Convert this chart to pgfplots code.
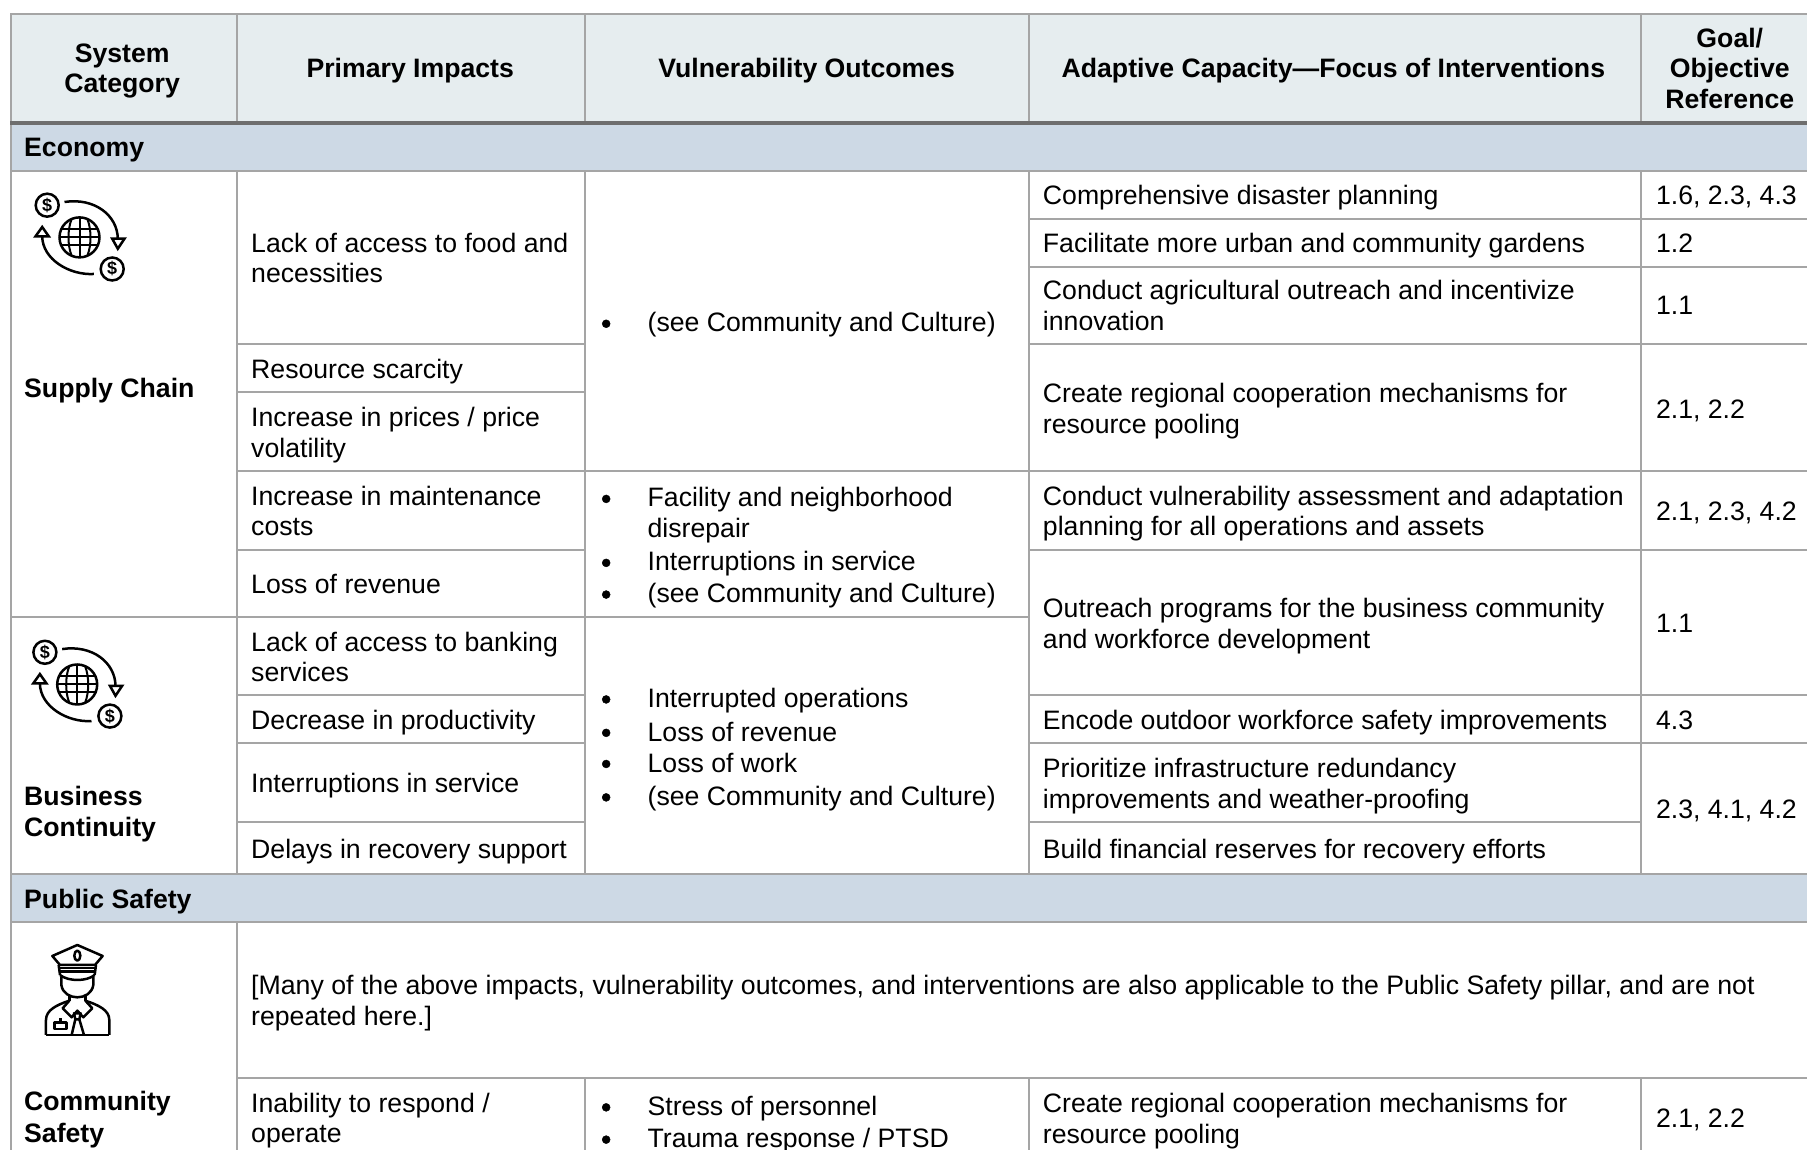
\documentclass[border=0pt]{standalone}
\usepackage{fontspec}
\setmainfont{Liberation Sans}
\usepackage{pgfplots}
\pgfplotsset{compat=1.18}
\definecolor{hdr}{HTML}{E6EDEF}
\definecolor{sec}{HTML}{CDD9E5}
\definecolor{rulegray}{HTML}{A5A5A5}
\definecolor{hdrline}{HTML}{6E6E6E}
\definecolor{txt}{HTML}{000000}
\tikzset{every node/.style={inner sep=0pt,outer sep=0pt,text=txt,font=\fontsize{26.65}{31}\selectfont}}
% x, centre y (in 1568x998 space), text
\newcommand{\T}[3]{\node[anchor=base west] at (axis cs:#1,#2+8.1) {#3};}
\newcommand{\B}[3]{\node[anchor=base west] at (axis cs:#1,#2+8.1) {\bfseries #3};}
\newcommand{\C}[3]{\node[anchor=base] at (axis cs:#1,#2+8.1) {\bfseries #3};}
\newcommand{\BU}[2]{\T{562}{#1}{#2}}
\newcommand{\HL}[3]{\addplot[rulegray,line width=2pt,forget plot] table[row sep=\\] {x y\\ #2 #1.4\\ #3 #1.4\\};}
\newcommand{\VL}[3]{\addplot[rulegray,line width=2pt,forget plot] coordinates {(#1,#2) (#1,#3)};}
\newcommand{\money}[2]{%
\begin{scope}[x=1pt,y=-1pt,shift={(#1pt,1150pt-#2pt)},line width=2.5pt,black]
\foreach \a/\b in {-32.3/-32.2,32.7/31.6}{
 \draw (\a,\b) circle (11.5);
 \node[font=\fontsize{18}{18}\selectfont\bfseries,text=black] at (\a,\b) {\$};
}
\draw (0,0) circle (20);
\draw[line width=2pt] (-18,-8)--(18,-8) (-20,0)--(20,0) (-18,8)--(18,8);
\draw[line width=2pt] (0,-20)--(0,20);
\draw[line width=2pt] (-8,-18) .. controls (-12,-8) and (-12,8) .. (-8,18);
\draw[line width=2pt] (8,-18) .. controls (12,-8) and (12,8) .. (8,18);
\draw (-15,-35.4) .. controls (15,-40) and (38,-22) .. (38.3,1.3);
\draw (32.7,1.3)--(45,1.3)--(38.3,11.3)--cycle;
\draw (14.3,36.6) .. controls (-10,38) and (-37,22) .. (-37.3,-1);
\draw (-44,-1)--(-30.7,-1)--(-37.3,-10.4)--cycle;
\end{scope}}
\begin{document}
\begin{tikzpicture}
\path[use as bounding box] (0,0) rectangle (1807pt,1150pt);
\begin{axis}[at={(0,0)},anchor=south west,width=1807pt,height=1150pt,scale only axis,
 xmin=0,xmax=1568,ymin=0,ymax=998,y dir=reverse,axis lines=none,clip=false]
\addplot[fill=hdr,draw=none,forget plot] coordinates {(9.3,12)(1568,12)(1568,106)(9.3,106)} -- cycle;
\addplot[fill=sec,draw=none,forget plot] coordinates {(9.3,106)(1568,106)(1568,148)(9.3,148)} -- cycle;
\addplot[fill=sec,draw=none,forget plot] coordinates {(9.3,758)(1568,758)(1568,800)(9.3,800)} -- cycle;
% outer and section rules
\HL{12}{9}{1568}
\HL{148}{9}{1568}
\HL{758}{9}{1568}
\HL{800}{9}{1568}
\HL{535}{9}{508}
\HL{935}{206}{1568}
\VL{9.3}{12}{998}
\VL{206}{12}{106}
\VL{206}{148}{758}
\VL{206}{800}{998}
\VL{507.8}{12}{106}
\VL{893.2}{12}{106}
\VL{1424.2}{12}{106}
\VL{507.8}{148}{758}
\VL{893.2}{148}{758}
\VL{1424.2}{148}{758}
\VL{507.8}{935}{998}
\VL{893.2}{935}{998}
\VL{1424.2}{935}{998}
% primary impacts rows
\HL{298}{206}{508}
\HL{340}{206}{508}
\HL{408}{206}{1568}
\HL{477}{206}{508}
\HL{603}{206}{508}
\HL{644}{206}{508}
\HL{713}{206}{508}
% vulnerability rows
\HL{535}{508}{893}
% capacity and goal rows
\HL{190}{893}{1568}
\HL{231}{893}{1568}
\HL{298}{893}{1568}
\HL{477}{893}{1568}
\HL{603}{893}{1568}
\HL{644}{893}{1568}
\HL{713}{893}{1424}
\addplot[hdrline,line width=4pt,forget plot] coordinates {(9,106.7) (1568,106.7)};
% list bullets of the vulnerability outcomes
\addplot[only marks,mark=*,mark size=4pt,black,forget plot] coordinates {(526,281) (526,433) (526,488.5) (526,516) (526,607) (526,636) (526,663) (526,692) (526,961) (526,989)};
% header
\C{106}{46}{System}
\C{106}{72}{Category}
\C{356}{59}{Primary Impacts}
\C{700}{59}{Vulnerability Outcomes}
\C{1157}{59}{Adaptive Capacity—Focus of Interventions}
\C{1501}{33}{Goal/}
\C{1501}{59}{Objective}
\C{1501}{86}{Reference}
% sections and categories
\B{21}{128}{Economy}
\B{21}{780}{Public Safety}
\B{21}{337}{Supply Chain}
\B{21}{691}{Business}
\B{21}{718}{Continuity}
\B{21}{956}{Community}
\B{21}{983}{Safety}
% primary impacts
\T{218}{211}{Lack of access to food and}
\T{218}{237}{necessities}
\T{218}{320}{Resource scarcity}
\T{218}{362}{Increase in prices / price}
\T{218}{389}{volatility}
\T{218}{431}{Increase in maintenance}
\T{218}{457}{costs}
\T{218}{507}{Loss of revenue}
\T{218}{557}{Lack of access to banking}
\T{218}{583}{services}
\T{218}{625}{Decrease in productivity}
\T{218}{680}{Interruptions in service}
\T{218}{737}{Delays in recovery support}
\node[anchor=base west,font=\fontsize{26.7}{31}\selectfont] at (axis cs:218,855+8.1) {[Many of the above impacts, vulnerability outcomes, and interventions are also applicable to the Public Safety pillar, and are not};
\T{218}{882}{repeated here.]}
\T{218}{957}{Inability to respond /}
\T{218}{983}{operate}
% vulnerability outcomes
\BU{280}{(see Community and Culture)}
\BU{431.3}{Facility and neighborhood}
\T{562}{458.3}{disrepair}
\BU{487}{Interruptions in service}
\BU{515}{(see Community and Culture)}
\BU{606}{Interrupted operations}
\BU{635}{Loss of revenue}
\BU{662}{Loss of work}
\BU{691}{(see Community and Culture)}
\BU{960}{Stress of personnel}
\BU{988}{Trauma response / PTSD}
% adaptive capacity
\T{905}{169}{Comprehensive disaster planning}
\T{905}{211}{Facilitate more urban and community gardens}
\T{905}{252}{Conduct agricultural outreach and incentivize}
\T{905}{279}{innovation}
\T{905}{341}{Create regional cooperation mechanisms for}
\T{905}{368}{resource pooling}
\T{905}{431}{Conduct vulnerability assessment and adaptation}
\T{905}{457}{planning for all operations and assets}
\T{905}{528}{Outreach programs for the business community}
\T{905}{555}{and workforce development}
\T{905}{625}{Encode outdoor workforce safety improvements}
\T{905}{667}{Prioritize infrastructure redundancy}
\T{905}{693.5}{improvements and weather-proofing}
\T{905}{737}{Build financial reserves for recovery efforts}
\T{905}{957}{Create regional cooperation mechanisms for}
\T{905}{984}{resource pooling}
% goal references
\T{1437}{169}{1.6, 2.3, 4.3}
\T{1437}{211}{1.2}
\T{1437}{265}{1.1}
\T{1437}{355}{2.1, 2.2}
\T{1437}{444}{2.1, 2.3, 4.2}
\T{1437}{541}{1.1}
\T{1437}{625}{4.3}
\T{1437}{702}{2.3, 4.1, 4.2}
\T{1437}{970}{2.1, 2.2}
\end{axis}
\money{79.5}{237.4}
\money{77.2}{684.5}
% police icon, in 3x crop coordinates from (20,930)
\begin{scope}[x=0.3333pt,y=-0.3333pt,shift={(20pt,220pt)},line width=2.5pt,black,line join=round]
\draw (172,45)--(248,78)--(225,105)--(120,105)--(97,78)--cycle;
\draw (172,77) ellipse (9 and 15);
\draw (116,105)--(120,135) (228,105)--(224,135);
\draw (118,114)--(226,114) (118,124)--(226,124);
\draw (120,135) .. controls (145,155) and (200,155) .. (224,135);
\draw (124,140)--(124,165) .. controls (128,190) and (150,202) .. (172,202) .. controls (194,202) and (216,190) .. (220,165)--(220,140);
\draw (148,195)--(148,212) (196,195)--(196,212);
\draw (78,315)--(78,270) .. controls (78,240) and (110,225) .. (148,212);
\draw (268,315)--(268,270) .. controls (268,240) and (235,225) .. (196,212);
\draw (78,315)--(268,315);
\draw (148,212)--(128,235)--(155,262)--(172,242)--(190,262)--(217,235)--(196,212);
\draw (162,250)--(182,250)--(178,268)--(166,268)--cycle;
\draw (166,268)--(155,315) (178,268)--(192,315);
\draw (103,278) rectangle (140,297);
\draw (121,265)--(121,278);
\end{scope}
\end{tikzpicture}
\end{document}
